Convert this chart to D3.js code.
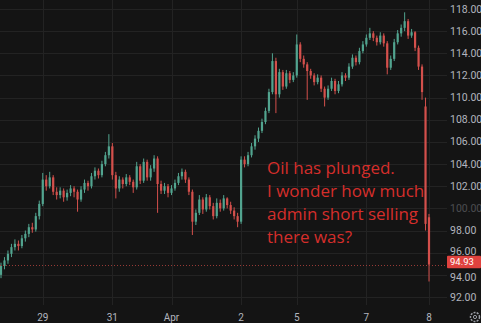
<!DOCTYPE html>
<html><head><meta charset="utf-8">
<script src="https://cdn.jsdelivr.net/npm/d3@7"></script>
<style>html,body{margin:0;padding:0;background:#141414;overflow:hidden}svg{display:block}</style>
</head><body>
<script>
const opens  = [94.0,94.8,95.3,95.9,96.5,96.8,96.6,97.3,97.7,98.3,98.1,99.3,100.4,102.6,102.0,102.8,101.5,101.2,101.6,101.0,101.4,101.8,101.5,100.8,101.7,102.3,102.0,102.9,103.4,103.0,104.0,104.8,105.6,103.0,101.8,102.6,102.2,102.8,102.4,101.9,103.8,102.5,104.2,102.8,103.6,104.5,102.2,101.6,102.0,101.4,101.8,102.3,102.9,103.3,102.6,101.5,98.8,99.6,100.8,99.9,101.0,100.2,99.3,100.5,100.0,100.9,100.3,99.8,99.3,98.8,104.4,104.0,104.8,105.6,106.3,107.0,107.8,108.8,110.5,113.3,110.3,112.3,111.0,112.2,111.6,112.0,114.8,113.5,113.0,112.4,112.0,111.4,111.8,110.8,110.0,110.8,111.5,110.6,111.2,112.0,111.8,112.8,113.6,113.2,114.2,114.8,115.4,115.8,115.4,115.0,115.6,114.9,112.7,113.5,115.0,115.8,116.3,116.9,115.6,115.9,114.5,112.8,109.2,99.2];
const highs  = [95.1,95.6,96.2,96.8,97.2,97.1,97.6,98.0,98.6,98.7,99.6,100.7,103.2,103.0,103.3,103.0,101.9,101.9,101.8,101.7,102.1,102.0,101.7,102.0,102.6,102.5,103.2,103.7,103.6,104.3,105.1,106.7,105.9,103.3,102.9,102.8,103.1,103.0,102.6,104.2,104.0,104.5,104.4,103.9,104.8,104.7,102.5,102.3,102.2,102.1,102.6,103.2,103.6,103.5,102.8,101.7,99.9,101.2,101.0,101.3,101.2,100.5,100.9,100.8,101.2,101.0,100.6,100.1,99.6,104.7,104.7,105.1,105.9,106.6,107.3,108.1,109.1,110.8,114.0,113.6,112.6,112.5,112.5,112.4,112.3,115.7,115.0,113.8,113.2,112.6,112.2,112.1,112.0,111.0,111.1,111.8,111.7,111.5,112.3,112.2,113.1,113.9,113.8,114.5,115.1,115.7,116.3,116.0,115.6,115.9,115.8,115.1,113.8,115.3,116.1,116.6,117.7,117.1,116.2,116.0,114.7,113.0,110.0,99.5];
const lows   = [93.7,94.5,95.0,95.6,96.2,96.2,96.4,97.0,97.4,97.8,97.9,99.0,100.2,101.6,101.8,101.2,100.8,100.9,100.6,100.7,101.1,101.0,99.7,100.6,101.4,101.6,101.8,102.6,102.7,102.8,103.8,104.5,102.6,100.9,101.5,101.8,102.0,102.1,101.4,101.7,102.2,102.3,102.5,102.5,103.3,99.6,101.3,101.3,101.0,101.2,101.6,102.1,102.6,102.3,101.2,97.6,98.5,99.4,99.5,99.7,99.9,99.0,99.1,99.7,99.8,100.0,99.5,99.0,98.3,98.6,103.7,103.8,104.6,105.3,106.0,106.8,107.6,108.6,110.3,108.6,110.0,110.7,110.8,111.3,111.4,111.8,113.2,112.7,109.8,111.7,111.1,111.2,110.5,109.2,109.8,110.6,110.3,110.4,111.0,111.5,111.6,112.6,112.9,113.0,114.0,114.6,115.2,115.1,114.7,114.8,114.6,112.1,112.5,113.3,114.8,115.5,116.0,115.3,115.4,114.2,112.5,109.8,98.0,93.4];
const closes = [94.8,95.3,95.9,96.5,96.8,96.6,97.3,97.7,98.3,98.1,99.3,100.4,102.6,102.0,102.8,101.5,101.2,101.6,101.0,101.4,101.8,101.5,100.8,101.7,102.3,102.0,102.9,103.4,103.0,104.0,104.8,105.6,103.0,101.8,102.6,102.2,102.8,102.4,101.9,103.8,102.5,104.2,102.8,103.6,104.5,102.2,101.6,102.0,101.4,101.8,102.3,102.9,103.3,102.6,101.5,98.8,99.6,100.8,99.9,101.0,100.2,99.3,100.5,100.0,100.9,100.3,99.8,99.3,98.8,104.4,104.0,104.8,105.6,106.3,107.0,107.8,108.8,110.5,113.3,110.3,112.3,111.0,112.2,111.6,112.0,114.8,113.5,113.0,112.4,112.0,111.4,111.8,110.8,110.0,110.8,111.5,110.6,111.2,112.0,111.8,112.8,113.6,113.2,114.2,114.8,115.4,115.8,115.4,115.0,115.6,114.9,112.7,113.5,115.0,115.8,116.3,116.9,115.6,115.9,114.5,112.8,110.5,98.6,94.93];

const xTickIdx    = [12, 32, 49, 69, 85, 105, 123];
const xTickLabels = ["29", "31", "Apr", "2", "5", "7", "8"];
const yTicks      = [92,94,96,98,100,102,104,106,108,110,112,114,116,118];
const lastPrice   = 94.93;
const noteLines   = ["Oil has plunged.", "I wonder how much", "admin short selling", "there was?"];

const W = 481, H = 323, plotRight = 447;
const svg = d3.select("body").append("svg").attr("width", W).attr("height", H);
svg.append("rect").attr("width", W).attr("height", H).attr("fill", "#141414");

const x = d3.scaleLinear().domain([0, closes.length - 1]).range([1, 429]);
const y = d3.scaleLinear().domain([92, 118]).range([297, 9]);

const grid = svg.append("g");
grid.selectAll("line.h").data(yTicks).join("line").attr("class","h")
  .attr("x1", 0).attr("x2", plotRight).attr("y1", d => Math.round(y(d)) + 0.5).attr("y2", d => Math.round(y(d)) + 0.5)
  .attr("stroke", "#232323").attr("stroke-width", 1);
grid.selectAll("line.v").data(xTickIdx).join("line").attr("class","v")
  .attr("y1", 0).attr("y2", 305).attr("x1", d => Math.round(x(d)) + 0.5).attr("x2", d => Math.round(x(d)) + 0.5)
  .attr("stroke", "#232323").attr("stroke-width", 1);

const up = "#52a48f", down = "#d4504c";
const data = closes.map((c, i) => ({i, o: opens[i], h: highs[i], l: lows[i], c}));
const cg = svg.append("g");
cg.selectAll("line.w").data(data).join("line").attr("class","w")
  .attr("x1", d => x(d.i)).attr("x2", d => x(d.i))
  .attr("y1", d => y(d.h)).attr("y2", d => y(d.l))
  .attr("stroke", d => d.c >= d.o ? up : down).attr("stroke-width", 1);
cg.selectAll("rect.b").data(data).join("rect").attr("class","b")
  .attr("x", d => x(d.i) - 1.1).attr("width", 2.2)
  .attr("y", d => y(Math.max(d.o, d.c)))
  .attr("height", d => Math.max(1, Math.abs(y(d.o) - y(d.c))))
  .attr("fill", d => d.c >= d.o ? up : down);

// last price dotted line
svg.append("line").attr("x1", 0).attr("x2", plotRight)
  .attr("y1", Math.round(y(lastPrice)) + 0.5).attr("y2", Math.round(y(lastPrice)) + 0.5)
  .attr("stroke", "#b8443f").attr("stroke-width", 1).attr("stroke-dasharray", "1,2").attr("opacity", 0.8);

// y axis labels (nudged around the last-price tag)
const nudge = {96: -1.5, 94: 2.5};
const ya = svg.append("g").attr("font-family", "Roboto, 'DejaVu Sans', sans-serif").attr("font-size", 10.5).attr("fill", "#b2b5be");
ya.selectAll("text").data(yTicks).join("text")
  .attr("x", 450).attr("y", d => y(d) + 3.5 + (nudge[d] || 0))
  .attr("opacity", d => d === 100 ? 0.35 : 1)
  .text(d => d.toFixed(2));

// last price tag
const tagBase = y(lastPrice) + 0.7;
svg.append("rect").attr("x", 447).attr("y", tagBase - 9.5).attr("width", 34).attr("height", 12.5).attr("fill", "#e0423e").attr("rx", 1);
svg.append("text").attr("x", 450).attr("y", tagBase).attr("font-family", "Roboto, 'DejaVu Sans', sans-serif")
  .attr("font-size", 9.5).attr("fill", "#ffffff").text(lastPrice.toFixed(2));

// x axis labels
svg.append("g").attr("font-family", "Roboto, 'DejaVu Sans', sans-serif").attr("font-size", 10).attr("fill", "#b2b5be")
  .selectAll("text").data(xTickIdx).join("text")
  .attr("x", d => x(d)).attr("y", 321).attr("text-anchor", "middle")
  .text((d, i) => xTickLabels[i]);

// gear icon
const gear = svg.append("g").attr("transform", "translate(475,317)");
gear.append("circle").attr("r", 4.5).attr("fill", "none").attr("stroke", "#9a9da5").attr("stroke-width", 1.5).attr("stroke-dasharray", "2,1.2");
gear.append("circle").attr("r", 1.6).attr("fill", "none").attr("stroke", "#9a9da5").attr("stroke-width", 1);

// annotation
svg.append("g").attr("font-family", "'Open Sans', sans-serif").attr("font-size", 17).attr("fill", "#d42e2b")
  .selectAll("text").data(noteLines).join("text")
  .attr("x", 267).attr("y", (d, i) => 174 + i * 23).text(d => d);
</script>
</body></html>
